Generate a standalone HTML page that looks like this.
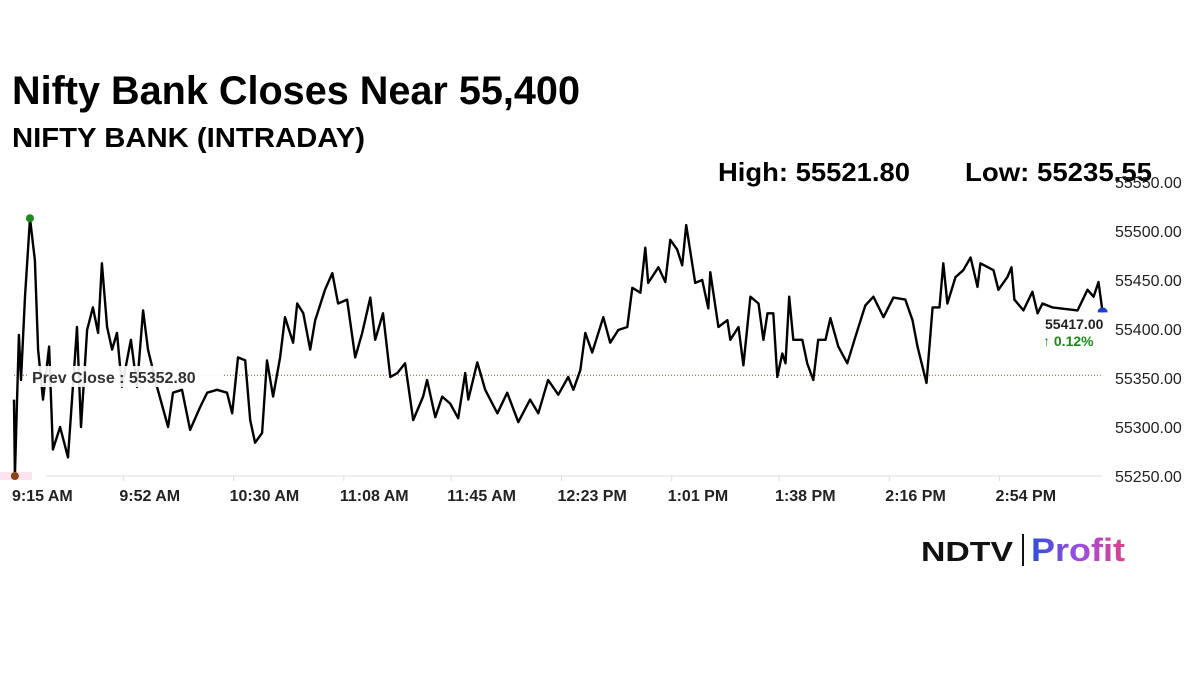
<!DOCTYPE html>
<html><head><meta charset="utf-8"><style>
html,body{margin:0;padding:0;background:#fff;}
svg{display:block;font-family:"Liberation Sans",Arial,sans-serif;}
</style></head><body>
<svg id="chart" width="1200" height="674" viewBox="0 0 1200 674" xmlns="http://www.w3.org/2000/svg">
<defs><linearGradient id="pg" x1="0" x2="1"><stop offset="0" stop-color="#2f4fd8"/><stop offset="0.5" stop-color="#9a4de0"/><stop offset="1" stop-color="#e0408a"/></linearGradient></defs>
<text x="12" y="104" font-size="40" font-weight="bold" fill="#000" textLength="568" lengthAdjust="spacingAndGlyphs">Nifty Bank Closes Near 55,400</text>
<text x="12" y="147" font-size="28" font-weight="bold" fill="#000" textLength="353" lengthAdjust="spacingAndGlyphs">NIFTY BANK (INTRADAY)</text>
<text x="718" y="181" font-size="26" font-weight="bold" fill="#000" textLength="192" lengthAdjust="spacingAndGlyphs">High: 55521.80</text>
<text x="965" y="181" font-size="26" font-weight="bold" fill="#000" textLength="187" lengthAdjust="spacingAndGlyphs">Low: 55235.55</text>
<line x1="46" y1="476" x2="1102" y2="476" stroke="#ddd" stroke-width="1"/>
<g id="yticks"></g>
<g id="xticks"></g>
<line id="prevline" x1="14" x2="1102" stroke="#a0522d" stroke-width="1" stroke-dasharray="1,2"/>
<path id="line" fill="none" stroke="#000" stroke-width="2.4" stroke-linejoin="round"/>
<rect x="28" y="366" width="196" height="21" fill="#fff" opacity="0.9"/>
<text x="32" y="383" font-size="16" font-weight="bold" fill="#333">Prev Close : 55352.80</text>
<rect x="0" y="472" width="32" height="8" fill="#fbe3f0"/>
<circle id="hiDot" r="4" fill="#1a8a1a"/>
<circle id="loDot" r="4" fill="#8b4513"/>
<path id="lastDot" fill="#1a3fd0"/>
<text x="1045" y="329" font-size="14" font-weight="bold" fill="#222">55417.00</text>
<text x="1043" y="346" font-size="14" font-weight="bold" fill="#1a8a1a">↑ 0.12%</text>
<g>
<text x="921" y="561" font-size="28" font-weight="bold" fill="#111" textLength="92" lengthAdjust="spacingAndGlyphs">NDTV</text>
<rect x="1022" y="534" width="2" height="32" fill="#111"/>
<text x="1031" y="561" font-size="32" font-weight="bold" fill="url(#pg)" textLength="94" lengthAdjust="spacingAndGlyphs">Profit</text>
</g>
</svg>
<script>
const minutes=[0,0.3,1.0,1.7,2.4,3.8,5.5,7.2,8.3,10.0,12.1,13.4,15.9,18.6,20.3,21.7,23.1,25.2,27.2,29.0,30.3,32.1,33.8,35.5,37.2,40.3,42.4,44.5,46.2,49.3,53.1,54.8,57.9,60.7,64.1,66.6,70.0,73.4,75.2,77.2,79.7,81.4,83.1,85.5,87.2,89.3,91.7,93.4,96.2,97.6,99.7,102.1,103.8,107.2,109.7,111.7,114.8,117.6,120.0,122.8,124.5,127.2,129.7,132.1,134.8,137.6,141.0,142.4,145.2,147.6,150.3,153.1,155.5,156.6,159.7,162.4,166.6,170.0,173.8,177.9,180.7,184.1,187.6,191.0,192.8,195.2,196.9,199.3,203.1,205.5,208.3,211.4,213.1,215.9,217.6,218.6,222.1,224.5,226.2,228.6,230.3,231.7,234.8,237.2,239.3,240.0,242.8,245.9,246.9,249.7,251.4,253.8,256.6,258.3,259.7,261.7,263.1,264.8,265.9,267.2,268.6,271.7,273.4,275.5,277.2,279.7,281.4,284.1,287.2,290.0,293.4,296.2,299.7,303.1,307.2,309.7,311.4,314.5,316.6,319.0,320.3,321.7,324.5,327.2,329.7,332.1,333.1,337.6,339.3,342.4,343.8,344.8,347.9,351.0,352.8,354.5,357.9,366.6,370.0,372.1,373.8,375.2];
const prices=[55328,55250,55322,55394,55348,55433,55513,55470,55379,55328,55382,55277,55300,55269,55341,55402,55300,55399,55422,55396,55467,55402,55379,55396,55341,55389,55341,55419,55379,55341,55300,55335,55338,55297,55320,55335,55338,55335,55314,55371,55368,55307,55284,55294,55368,55331,55371,55412,55386,55426,55416,55379,55409,55440,55457,55426,55430,55371,55396,55432,55389,55416,55351,55355,55365,55307,55331,55348,55310,55331,55324,55309,55355,55328,55366,55338,55314,55335,55305,55328,55314,55348,55333,55351,55338,55358,55396,55376,55412,55386,55399,55402,55442,55437,55483,55447,55463,55448,55491,55481,55465,55506,55447,55450,55421,55458,55402,55409,55389,55402,55363,55433,55426,55389,55416,55416,55351,55375,55365,55433,55389,55389,55365,55348,55389,55389,55411,55382,55365,55392,55424,55433,55412,55432,55430,55409,55382,55345,55422,55422,55467,55426,55453,55460,55473,55443,55467,55460,55440,55453,55463,55430,55419,55438,55416,55426,55422,55419,55440,55433,55448,55417];
const yTickValues=[55250,55300,55350,55400,55450,55500,55550];
const yTickLabels=["55250.00","55300.00","55350.00","55400.00","55450.00","55500.00","55550.00"];
const xTickMinutes=[0,37,75,113,150,188,226,263,301,339];
const xTickLabels=["9:15 AM","9:52 AM","10:30 AM","11:08 AM","11:45 AM","12:23 PM","1:01 PM","1:38 PM","2:16 PM","2:54 PM"];
const prevClose=55352.80;

const NS="http://www.w3.org/2000/svg";
function xs(t){return 14+t*(1088/375);}
function ys(v){return 476-(v-55250)*(294/300);}
const yt=document.getElementById('yticks');
yTickValues.forEach((v,i)=>{
  const t=document.createElementNS(NS,'text');
  
  
  t.setAttribute('x',1115);t.setAttribute('y',ys(v)+6);
  t.setAttribute('font-size','16');t.setAttribute('fill','#222');
  t.textContent=yTickLabels[i];yt.appendChild(t);
});
const xt=document.getElementById('xticks');
xTickMinutes.forEach((m,i)=>{
  const x=xs(m);
  if(i>0){const l=document.createElementNS(NS,'line');
  
  
  l.setAttribute('x1',x+2);l.setAttribute('x2',x+2);l.setAttribute('y1',476);l.setAttribute('y2',481);l.setAttribute('stroke','#ddd');xt.appendChild(l);}
  const t=document.createElementNS(NS,'text');
  
  
  t.setAttribute('x',x-2);t.setAttribute('y',501);
  t.setAttribute('font-size','16');t.setAttribute('font-weight','bold');t.setAttribute('fill','#222');
  t.textContent=xTickLabels[i];xt.appendChild(t);
});
const pl=document.getElementById('prevline');
pl.setAttribute('y1',ys(prevClose));pl.setAttribute('y2',ys(prevClose));
let d='';
minutes.forEach((m,i)=>{d+=(i?'L':'M')+xs(m).toFixed(1)+','+ys(prices[i]).toFixed(1);});
document.getElementById('line').setAttribute('d',d);
let hi=0,lo=0;prices.forEach((p,i)=>{if(p>prices[hi])hi=i;if(p<prices[lo])lo=i;});
const hd=document.getElementById('hiDot');hd.setAttribute('cx',xs(minutes[hi]));hd.setAttribute('cy',ys(prices[hi]));
const ld=document.getElementById('loDot');ld.setAttribute('cx',xs(minutes[lo]));ld.setAttribute('cy',ys(prices[lo]));
const n=prices.length-1,lx=xs(minutes[n]),ly=ys(prices[n]);
document.getElementById('lastDot').setAttribute('d',`M${lx-5},${ly} A5,5 0 0 1 ${lx+5},${ly} Z`);
</script>
</body></html>
